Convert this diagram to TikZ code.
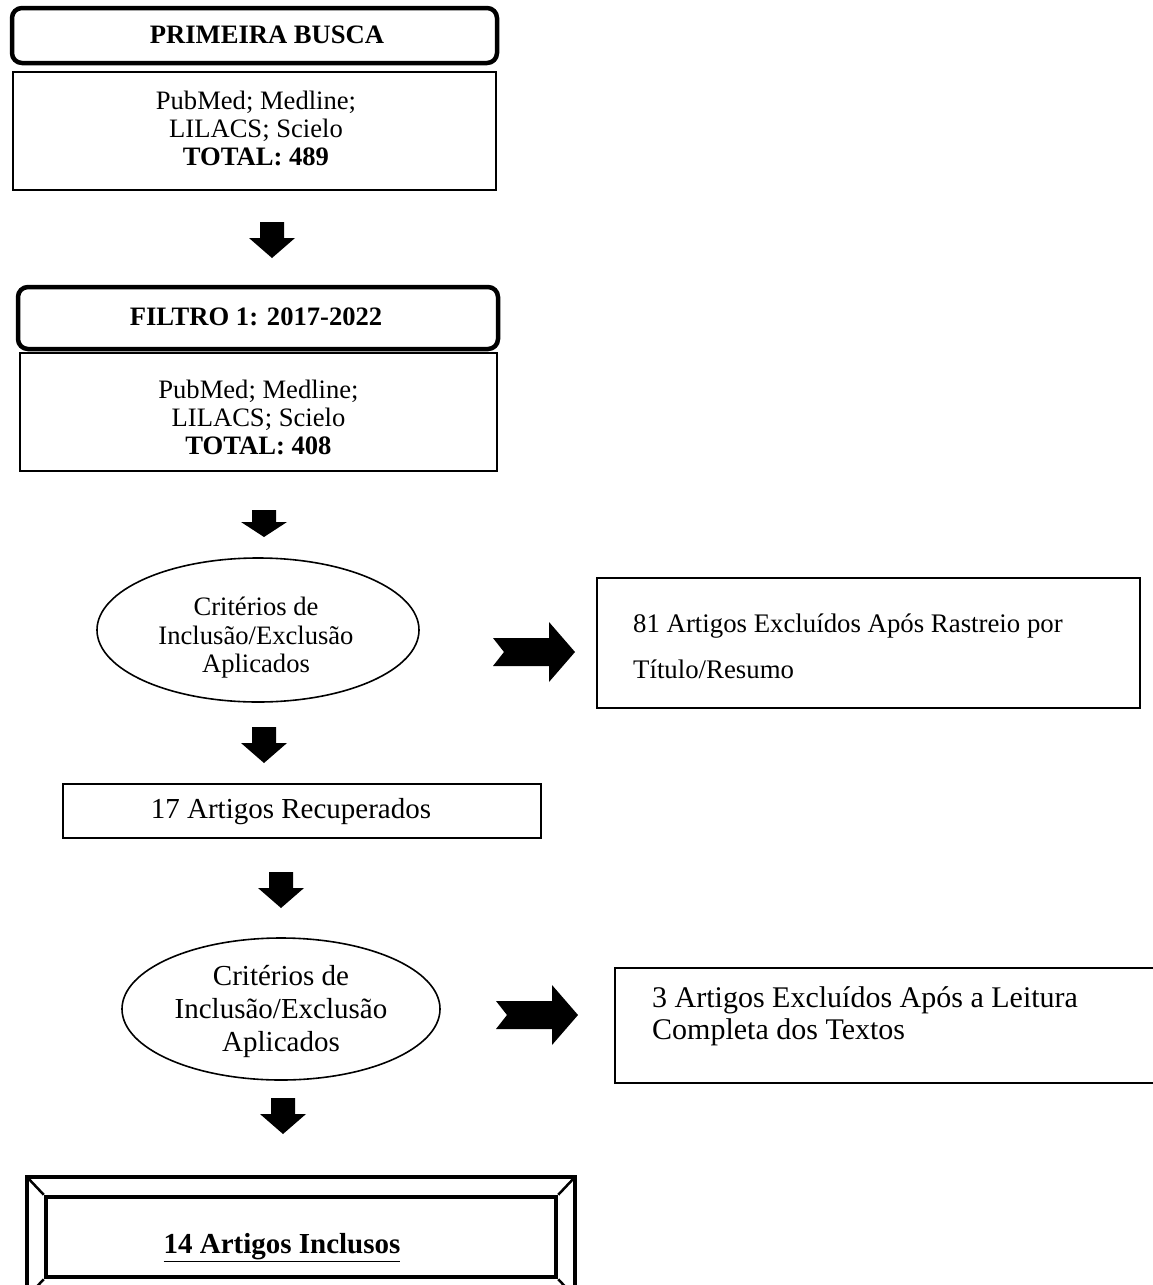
\documentclass[tikz,border=0pt]{standalone}
\usepackage{fontspec}
\setmainfont{Liberation Serif}
\usetikzlibrary{shapes.geometric,calc}
\newcommand\bodyfont{\fontsize{26.6}{28}\selectfont}
\tikzset{
  thick line/.style={line width=4.5pt},
  thin line/.style={line width=1.6pt},
  titlebox/.style={draw, thick line, rounded corners=10pt, inner sep=0pt},
  listbox/.style={draw, thin line, inner sep=0pt},
  critbox/.style={draw, thin line, ellipse, inner sep=0pt},
  notebox/.style={draw, thin line, inner sep=0pt},
  plaintext/.style={align=center, inner sep=0pt, font=\bodyfont},
  notetext/.style={anchor=west, align=left, inner sep=0pt},
  downarr/.pic={\fill (-12,0) -- (12,0) -- (12,16) -- (23,16) -- (0,36) -- (-23,16) -- (-12,16) -- cycle;},
  rightarr/.pic={\fill (0,-14) -- (56,-14) -- (56,-30) -- (82,0) -- (56,30) -- (56,14) -- (0,14) -- (11,0) -- cycle;}
}
\begin{document}
\begin{tikzpicture}[x=1pt,y=-1pt]
\useasboundingbox (0,0) rectangle (1153,1285);
\clip (0,0) rectangle (1153,1285);

% first search
\node[titlebox, minimum width=485pt, minimum height=55pt] (t1) at (254.5,35.5) {};
\node[plaintext] (t1t) at (267,35) {\textbf{PRIMEIRA BUSCA}};
\node[listbox, minimum width=483pt, minimum height=118pt] (s1) at (254.5,131) {};
\node[plaintext] (s1t) at (256,128) {PubMed; Medline;\\LILACS; Scielo\\\textbf{TOTAL: 489}};
\coordinate (d1) at (272,222);
\pic at (d1) {downarr};

% filter by year
\node[titlebox, minimum width=480pt, minimum height=62pt] (t2) at (258,318) {};
\node[plaintext] (t2t) at (256,317) {\textbf{FILTRO 1: 2017-2022}};
\node[listbox, minimum width=477pt, minimum height=118pt] (s2) at (258.5,412) {};
\node[plaintext] (s2t) at (258.5,417) {PubMed; Medline;\\LILACS; Scielo\\\textbf{TOTAL: 408}};
\coordinate (d2) at (264,510);
\pic[yscale=0.75] at (d2) {downarr};

% first screening
\node[critbox, minimum width=322pt, minimum height=144pt] (e1) at (258,630) {};
\node[plaintext, font=\fontsize{26.6}{28.5}\selectfont] (e1t) at (256,638) {Critérios de\\Inclusão/Exclusão\\Aplicados};
\coordinate (r1) at (493,652);
\pic at (r1) {rightarr};
\node[notebox, minimum width=543pt, minimum height=130pt] (n1) at (868.5,643) {};
\node[notetext, font=\fontsize{26.8}{46}\selectfont] (n1t) at (633,646) {81 Artigos Excluídos Após Rastreio por\\Título/Resumo};
\coordinate (d3) at (264,727);
\pic at (d3) {downarr};

% retrieved
\node[notebox, minimum width=478pt, minimum height=54pt] (s3) at (302,811) {};
\node[plaintext, font=\fontsize{29}{30}\selectfont] (s3t) at (291,812) {17 Artigos Recuperados};
\coordinate (d4) at (281,872);
\pic at (d4) {downarr};

% second screening
\node[critbox, minimum width=318pt, minimum height=142pt] (e2) at (281,1009) {};
\node[plaintext, font=\fontsize{29}{33}\selectfont] (e2t) at (281,1011) {Critérios de\\Inclusão/Exclusão\\Aplicados};
\coordinate (r2) at (496,1015);
\pic at (r2) {rightarr};
\node[notebox, minimum width=545pt, minimum height=115pt] (n2) at (887.5,1025.5) {};
\node[notetext, font=\fontsize{30}{32}\selectfont] (n2t) at (652,1016) {3 Artigos Excluídos Após a Leitura\\Completa dos Textos};
\coordinate (d5) at (283,1098);
\pic at (d5) {downarr};

% included studies, bevelled frame
\node[draw, thick line, minimum width=510pt, minimum height=80pt, inner sep=0pt] (fin) at (301,1237) {};
\node[plaintext, font=\fontsize{29}{30}\selectfont] (fint) at (282,1248) {\underline{\textbf{14 Artigos Inclusos}}};
\coordinate (o1) at (27,1177);
\coordinate (o2) at (575,1177);
\coordinate (o3) at (575,1297);
\coordinate (o4) at (27,1297);
\draw[thick line] (o1) rectangle (o3);
\draw[line width=2.5pt] (o1) -- (fin.north west) (o2) -- (fin.north east) (o3) -- (fin.south east) (o4) -- (fin.south west);
\end{tikzpicture}
\end{document}
